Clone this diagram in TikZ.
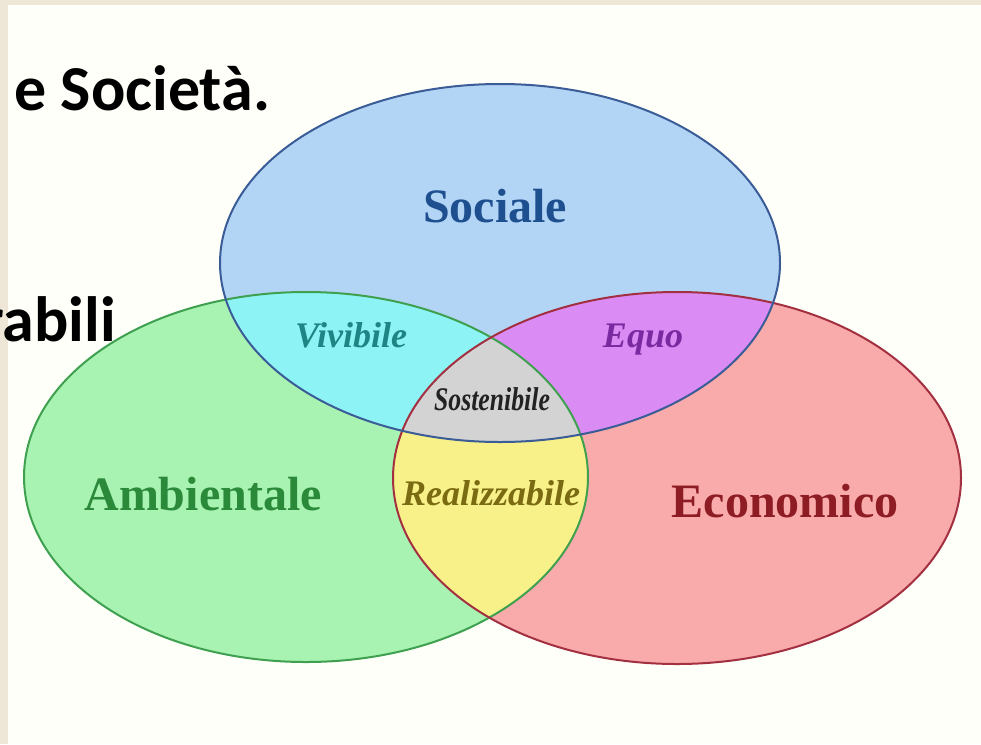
\documentclass[tikz,border=0pt]{standalone}
\usepackage{fontspec}
\setmainfont{Liberation Serif}
\newfontfamily\carlito{Carlito}
\definecolor{bg}{HTML}{EEE7D8}
\definecolor{panel}{HTML}{FFFFFA}
\definecolor{blueF}{HTML}{B3D5F5}
\definecolor{blueL}{HTML}{3A5C97}
\definecolor{greenF}{HTML}{A8F2B2}
\definecolor{greenL}{HTML}{3FA050}
\definecolor{redF}{HTML}{F9AAAA}
\definecolor{redL}{HTML}{A33040}
\definecolor{cyanF}{HTML}{8EF3F5}
\definecolor{purpF}{HTML}{DA8CF4}
\definecolor{yellF}{HTML}{F8F088}
\definecolor{grayF}{HTML}{D3D3D3}
\definecolor{socC}{HTML}{1E4F8F}
\definecolor{ambC}{HTML}{2A8A3A}
\definecolor{ecoC}{HTML}{8E1C24}
\definecolor{vivC}{HTML}{1E8484}
\definecolor{equC}{HTML}{7A2AA0}
\definecolor{reaC}{HTML}{7A6A12}
\definecolor{sosC}{HTML}{222222}
\begin{document}
\begin{tikzpicture}[x=1pt,y=-1pt,
  lab/.style={inner sep=0pt, anchor=base},
  bigl/.style={lab, font=\bfseries\fontsize{48}{48}\selectfont},
  smalll/.style={lab, font=\bfseries\itshape\fontsize{36}{36}\selectfont},
  slide/.style={inner sep=0pt, font=\carlito\bfseries\fontsize{64}{64}\selectfont, text=black},
  rim/.style={line width=2pt}]
\def\blueE{(500,263) ellipse [x radius=280pt, y radius=179pt]}
\def\greenE{(306,477) ellipse [x radius=282pt, y radius=185pt]}
\def\redE{(677,478) ellipse [x radius=284pt, y radius=186pt]}
\useasboundingbox (0,0) rectangle (981,744);
\fill[bg] (0,0) rectangle (981,744);
\fill[panel] (8,5) rectangle (981,744);
% fills
\fill[blueF] \blueE;
\fill[greenF] \greenE;
\fill[redF] \redE;
\begin{scope}
  \clip \blueE;
  \fill[cyanF] \greenE;
  \fill[purpF] \redE;
\end{scope}
\begin{scope}
  \clip \greenE;
  \fill[yellF] \redE;
  \clip \blueE;
  \fill[grayF] \redE;
\end{scope}
% outlines
\draw[rim, greenL] \greenE;
\draw[rim, redL] \redE;
\draw[rim, blueL] \blueE;
% labels
\node[bigl, text=socC] (sociale) at (495,222) {Sociale};
\node[bigl, text=ambC] (ambientale) at (203,510) {Ambientale};
\node[bigl, text=ecoC] (economico) at (785,517) {Economico};
\node[smalll, text=vivC] (vivibile) at (351,347) {Vivibile};
\node[smalll, text=equC] (equo) at (643,347) {Equo};
\node[smalll, text=reaC] (realizzabile) at (491,505) {Realizzabile};
\node[lab, text=sosC, font=\bfseries\itshape\fontsize{33}{33}\selectfont, xscale=0.78] (sostenibile) at (492,410) {Sostenibile};
% slide text
\node[slide, anchor=base west] (societa) at (14,110) {e Società.};
\node[slide, anchor=base east] (rabili) at (116,341) {rabili};
\end{tikzpicture}
\end{document}
